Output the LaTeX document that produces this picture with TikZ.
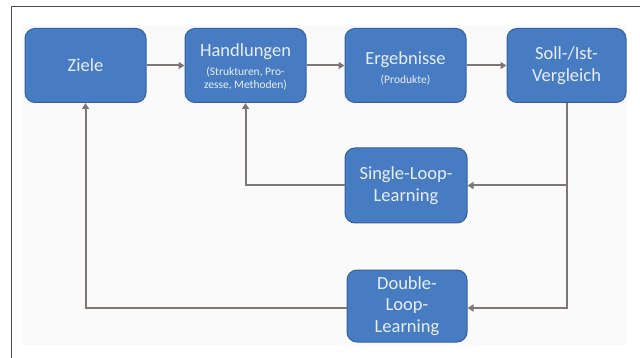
\documentclass[tikz,border=0pt]{standalone}
\usepackage{fontspec}
\setmainfont{Carlito}
\usetikzlibrary{arrows.meta}
\definecolor{boxblue}{RGB}{72,124,194}
\definecolor{boxedge}{RGB}{52,96,160}
\definecolor{arrowgray}{RGB}{128,118,116}
\definecolor{txtlight}{RGB}{232,238,247}
\definecolor{bgpanel}{RGB}{250,250,250}
\tikzset{
  blbox/.style={draw=boxedge, line width=1pt, fill=boxblue, rounded corners=10pt,
    minimum width=121pt, minimum height=74pt, inner sep=0pt, text=txtlight,
    align=center, font=\fontsize{18.5}{21.5}\selectfont},
  lbl/.style={text=txtlight, align=center, inner sep=0pt},
  smalltxt/.style={lbl, font=\fontsize{11.5}{13}\selectfont},
  conn/.style={draw=arrowgray, line width=2pt, -{Triangle[length=6pt,width=7pt]}},
  frameline/.style={draw=black!70, line width=1pt}
}
\begin{document}
\begin{tikzpicture}[x=1pt,y=-1pt]
\useasboundingbox (0,0) rectangle (640,358);
\fill[white] (0,0) rectangle (640,358);
\fill[bgpanel] (22,25) rectangle (627,345);
\draw[frameline] (11,358) -- (11,7) -- (640,7);

\node[blbox] (ziele) at (85.5,65.5) {Ziele};
\node[blbox] (hand) at (245.5,65.5) {};
\node[lbl, font=\fontsize{18.5}{21.5}\selectfont] (handT) at (245.5,52) {Handlungen};
\node[smalltxt] (handS) at (245.5,78.5) {(Strukturen, Pro-\\zesse, Methoden)};
\node[blbox] (erg) at (405.5,65.5) {};
\node[lbl, font=\fontsize{18.5}{21.5}\selectfont] (ergT) at (405.5,60) {Ergebnisse};
\node[smalltxt] (ergS) at (405.5,80) {(Produkte)};
\node[blbox, minimum width=119pt] (soll) at (566.5,65.5) {Soll-/Ist-\\Vergleich};
\node[blbox, minimum width=122pt, minimum height=75pt] (single) at (406,185.5) {Single-Loop-\\Learning};
\node[blbox, minimum width=120pt, minimum height=72pt] (double) at (407,306) {Double-\\Loop-\\Learning};

\coordinate (sj) at (soll.south |- single.east);
\coordinate (dj) at (soll.south |- 0,308);
\coordinate (hj) at (hand.south |- single.west);
\coordinate (zj) at (ziele.south |- 0,308);

\draw[conn] (ziele.east) -- (hand.west);
\draw[conn] (hand.east) -- (erg.west);
\draw[conn] (erg.east) -- (soll.west);
\draw[conn] (soll.south) -- (dj) -- (double.east |- dj);
\draw[conn] (sj) -- (single.east);
\draw[conn] (single.west) -- (hj) -- (hand.south);
\draw[conn] (double.west |- dj) -- (zj) -- (ziele.south);
\end{tikzpicture}
\end{document}
